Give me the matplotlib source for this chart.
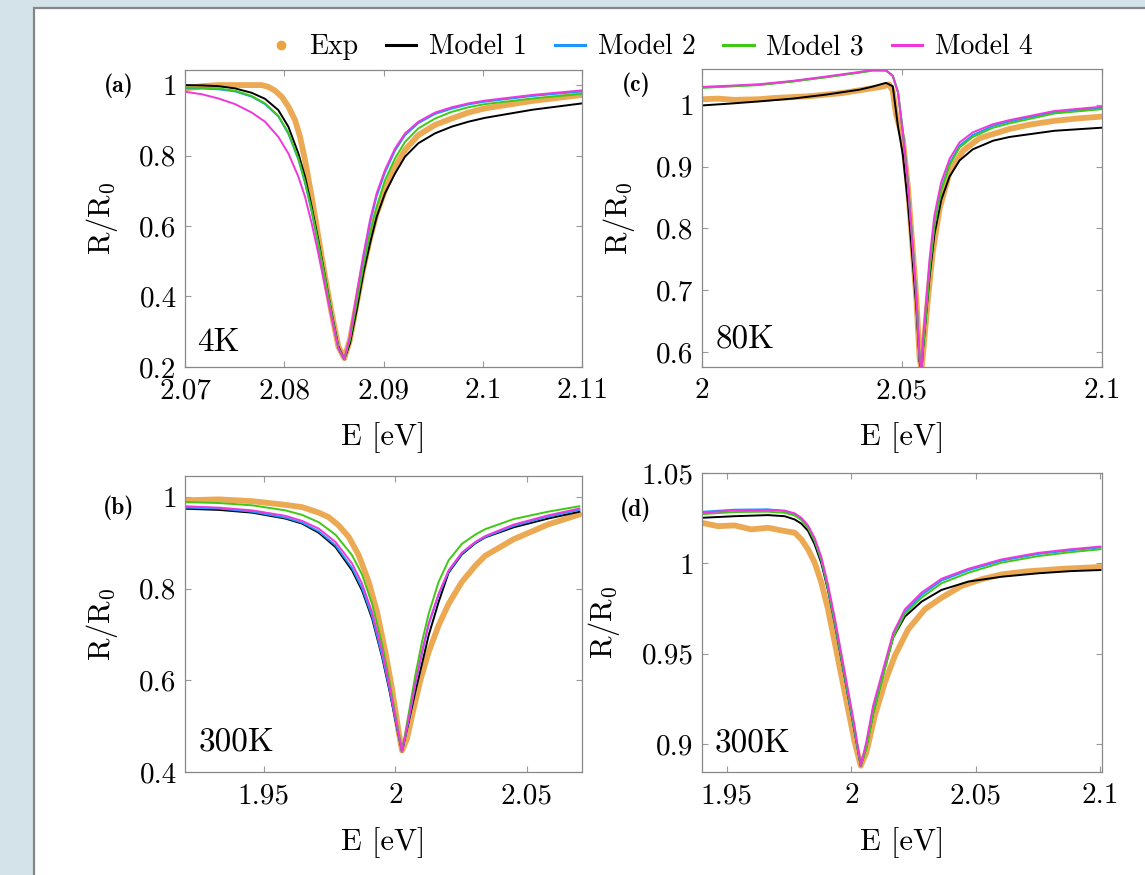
import matplotlib
matplotlib.use("Agg")
import matplotlib.pyplot as plt
from matplotlib.lines import Line2D
from matplotlib.patches import Rectangle

plt.rcParams["font.family"] = "cmr10"
plt.rcParams["mathtext.fontset"] = "cm"
plt.rcParams["axes.formatter.use_mathtext"] = True

# ---------------- panel (a): 4K ----------------
A_E_MOD = [2.07000, 2.07168, 2.07336, 2.07504, 2.07672, 2.07806, 2.07940, 2.08041,
           2.08142, 2.08209, 2.08276, 2.08343, 2.08411, 2.08478, 2.08545, 2.08605,
           2.08662, 2.08730, 2.08797, 2.08864, 2.08931, 2.09015, 2.09116, 2.09217,
           2.09351, 2.09519, 2.09687, 2.09855, 2.10023, 2.10500, 2.11000]
A_M1 = [1.000, 0.999, 0.997, 0.9905, 0.978, 0.961, 0.929, 0.882, 0.806, 0.740, 0.655,
        0.560, 0.456, 0.352, 0.258, 0.222, 0.267, 0.362, 0.466, 0.551, 0.626, 0.693,
        0.749, 0.797, 0.835, 0.863, 0.882, 0.896, 0.907, 0.930, 0.948]
A_M2 = [0.991, 0.990, 0.988, 0.982, 0.967, 0.946, 0.911, 0.862, 0.789, 0.722, 0.641,
        0.548, 0.449, 0.346, 0.253, 0.222, 0.283, 0.400, 0.510, 0.608, 0.685, 0.752,
        0.814, 0.858, 0.892, 0.918, 0.933, 0.945, 0.953, 0.969, 0.982]
A_M3 = [0.993, 0.992, 0.9905, 0.984, 0.969, 0.948, 0.913, 0.865, 0.792, 0.726, 0.645,
        0.551, 0.452, 0.348, 0.253, 0.222, 0.277, 0.381, 0.485, 0.579, 0.655, 0.730,
        0.792, 0.839, 0.877, 0.905, 0.924, 0.937, 0.946, 0.962, 0.975]
A_M4 = [0.981, 0.974, 0.962, 0.946, 0.922, 0.896, 0.853, 0.806, 0.740, 0.683, 0.608,
        0.522, 0.428, 0.338, 0.253, 0.222, 0.288, 0.409, 0.518, 0.617, 0.693, 0.759,
        0.820, 0.863, 0.896, 0.922, 0.937, 0.948, 0.956, 0.972, 0.985]
A_E_EXP = [2.07000, 2.07168, 2.07336, 2.07504, 2.07672, 2.07772, 2.07840, 2.07907,
           2.07974, 2.08041, 2.08108, 2.08159, 2.08209, 2.08276, 2.08343, 2.08411,
           2.08478, 2.08545, 2.08605, 2.08662, 2.08730, 2.08797, 2.08864, 2.08931,
           2.09015, 2.09116, 2.09217, 2.09351, 2.09519, 2.09687, 2.09855, 2.10023,
           2.10500, 2.11000]
A_EXP = [0.990, 0.997, 1.000, 1.000, 1.000, 1.000, 0.995, 0.984, 0.967, 0.939, 0.901,
         0.853, 0.787, 0.683, 0.570, 0.456, 0.352, 0.258, 0.225, 0.277, 0.381, 0.480,
         0.565, 0.636, 0.702, 0.768, 0.816, 0.858, 0.887, 0.905, 0.922, 0.934,
         0.955, 0.972]

# ---------------- panel (c): 80K ----------------
C_E_MOD = [2.0000, 2.0071, 2.0143, 2.0226, 2.0310, 2.0394, 2.0427, 2.0460, 2.0477,
           2.0490, 2.0502, 2.0515, 2.0527, 2.0536, 2.0544, 2.0549, 2.0552, 2.0561,
           2.0569, 2.0581, 2.0598, 2.0619, 2.0644, 2.0677, 2.0728, 2.0769, 2.0881,
           2.1000]
C_M1 = [0.999, 1.002, 1.0055, 1.0100, 1.0165, 1.0245, 1.0295, 1.0355, 1.0300, 0.965,
        0.920, 0.840, 0.745, 0.672, 0.585, 0.570, 0.600, 0.665, 0.722, 0.790, 0.846,
        0.884, 0.910, 0.928, 0.942, 0.948, 0.958, 0.963]
C_M2 = [1.0280, 1.0302, 1.0325, 1.0380, 1.0450, 1.0525, 1.0558, 1.0556, 1.0470,
        1.0210, 0.9580, 0.8730, 0.771, 0.690, 0.592, 0.571, 0.605, 0.672, 0.735,
        0.806, 0.864, 0.905, 0.934, 0.951, 0.966, 0.973, 0.988, 0.995]
C_M3 = [1.0275, 1.0297, 1.0320, 1.0375, 1.0445, 1.0520, 1.0553, 1.0552, 1.0468,
        1.0205, 0.9575, 0.8725, 0.770, 0.689, 0.592, 0.571, 0.603, 0.669, 0.732,
        0.803, 0.861, 0.902, 0.931, 0.948, 0.963, 0.970, 0.986, 0.993]
C_M4 = [1.0290, 1.0310, 1.0333, 1.0387, 1.0457, 1.0532, 1.0565, 1.0560, 1.0468,
        1.0199, 0.9554, 0.8694, 0.767, 0.687, 0.590, 0.570, 0.6166, 0.687, 0.751,
        0.821, 0.8747, 0.9124, 0.9392, 0.9554, 0.9688, 0.9753, 0.990, 0.997]
C_E_EXP = [2.000, 2.004, 2.008, 2.0143, 2.018, 2.0226, 2.027, 2.031, 2.035, 2.0394,
           2.0427, 2.0452, 2.0468, 2.0477, 2.0485, 2.0502, 2.0515, 2.0527, 2.0536,
           2.0544, 2.0549, 2.0555, 2.0565, 2.0577, 2.0594, 2.0619, 2.0653, 2.0694,
           2.0744, 2.0769, 2.082, 2.088, 2.094, 2.100]
C_EXP = [1.009, 1.010, 1.008, 1.009, 1.011, 1.0125, 1.014, 1.0165, 1.019, 1.0235,
         1.027, 1.0296, 1.033, 1.022, 0.985, 0.945, 0.866, 0.765, 0.686, 0.590,
         0.572, 0.615, 0.687, 0.762, 0.832, 0.891, 0.926, 0.946, 0.956, 0.961,
         0.968, 0.974, 0.978, 0.981]

# ---------------- panel (b): 300K ----------------
B_E_MOD = [1.92025, 1.93291, 1.94557, 1.95823, 1.96456, 1.97089, 1.97722, 1.98354,
           1.98734, 1.99114, 1.99494, 1.99747, 2.00000, 2.00253, 2.00506, 2.00759,
           2.01013, 2.01266, 2.01646, 2.02025, 2.02532, 2.03038, 2.03418, 2.04500,
           2.05800, 2.07000]
B_M1 = [0.9745, 0.972, 0.966, 0.953, 0.942, 0.922, 0.891, 0.840, 0.796, 0.735,
        0.651, 0.585, 0.513, 0.445, 0.509, 0.575, 0.636, 0.698, 0.771, 0.835,
        0.875, 0.899, 0.912, 0.934, 0.953, 0.968]
B_M2 = [0.977, 0.975, 0.968, 0.955, 0.944, 0.925, 0.895, 0.845, 0.801, 0.740,
        0.655, 0.589, 0.515, 0.445, 0.513, 0.590, 0.659, 0.721, 0.786, 0.837,
        0.877, 0.900, 0.913, 0.937, 0.957, 0.972]
B_M3 = [0.989, 0.987, 0.982, 0.971, 0.961, 0.945, 0.918, 0.873, 0.831, 0.767,
        0.680, 0.607, 0.527, 0.446, 0.527, 0.611, 0.684, 0.745, 0.815, 0.862,
        0.898, 0.918, 0.930, 0.952, 0.968, 0.980]
B_M4 = [0.980, 0.977, 0.971, 0.959, 0.948, 0.931, 0.902, 0.855, 0.811, 0.749,
        0.665, 0.596, 0.520, 0.445, 0.516, 0.593, 0.662, 0.724, 0.789, 0.840,
        0.879, 0.902, 0.915, 0.940, 0.960, 0.975]
B_E_EXP = [1.92025, 1.93291, 1.94557, 1.95823, 1.96456, 1.97089, 1.97468, 1.97848,
           1.98228, 1.98608, 1.98987, 1.99304, 1.99620, 1.99873, 2.00127, 2.00253,
           2.00443, 2.00696, 2.00949, 2.01266, 2.01646, 2.02025, 2.02532, 2.03038,
           2.03418, 2.04500, 2.05800, 2.07000]
B_EXP = [0.993, 0.995, 0.991, 0.983, 0.978, 0.966, 0.956, 0.938, 0.913, 0.873,
         0.815, 0.749, 0.662, 0.582, 0.487, 0.447, 0.473, 0.538, 0.600, 0.662,
         0.720, 0.767, 0.815, 0.850, 0.872, 0.908, 0.940, 0.962]

# ---------------- panel (d): 300K ----------------
D_E_MOD = [1.93966, 1.95307, 1.96648, 1.97318, 1.97720, 1.97989, 1.98257, 1.98525,
           1.98793, 1.99061, 1.99329, 1.99598, 1.99866, 2.00134, 2.00375, 2.00603,
           2.00871, 2.01206, 2.01676, 2.02145, 2.02816, 2.03620, 2.04693, 2.06034,
           2.07500, 2.08800, 2.10000]
D_M1 = [1.0252, 1.0261, 1.0267, 1.0261, 1.0243, 1.0220, 1.0180, 1.0105, 1.0000,
        0.9850, 0.9668, 0.9468, 0.9267, 0.9065, 0.8880, 0.8985, 0.9170, 0.9350,
        0.9590, 0.9705, 0.9788, 0.9853, 0.9899, 0.9926, 0.9945, 0.9957, 0.9963]
D_M2 = [1.0285, 1.0297, 1.0299, 1.0290, 1.0273, 1.0245, 1.0199, 1.0125, 1.0015,
        0.9858, 0.9674, 0.9472, 0.9269, 0.9067, 0.8882, 0.9000, 0.9195, 0.9365,
        0.9600, 0.9730, 0.9825, 0.9905, 0.9962, 1.0015, 1.0052, 1.0072, 1.0088]
D_M3 = [1.0272, 1.0284, 1.0286, 1.0280, 1.0265, 1.0240, 1.0196, 1.0125, 1.0020,
        0.9866, 0.9683, 0.9483, 0.9282, 0.9080, 0.8880, 0.8975, 0.9165, 0.9340,
        0.9590, 0.9720, 0.9810, 0.9890, 0.9948, 1.0004, 1.0040, 1.0062, 1.0078]
D_M4 = [1.0280, 1.0293, 1.0296, 1.0292, 1.0277, 1.0252, 1.0210, 1.0140, 1.0035,
        0.9882, 0.9700, 0.9500, 0.9298, 0.9095, 0.8880, 0.9015, 0.9212, 0.9380,
        0.9615, 0.9745, 0.9838, 0.9915, 0.9970, 1.0022, 1.0058, 1.0078, 1.0093]
D_E_EXP = [1.93966, 1.94636, 1.95307, 1.95977, 1.96648, 1.97318, 1.97720, 1.97989,
           1.98257, 1.98525, 1.98793, 1.99061, 1.99329, 1.99598, 1.99866, 2.00134,
           2.00375, 2.00603, 2.00938, 2.01341, 2.01743, 2.02279, 2.02950, 2.03620,
           2.04425, 2.05230, 2.06034, 2.07000, 2.08500, 2.10000]
D_EXP = [1.0225, 1.0206, 1.0210, 1.0188, 1.0197, 1.0179, 1.0170, 1.0133, 1.0078,
         1.0004, 0.9893, 0.9746, 0.9562, 0.9377, 0.9193, 0.9009, 0.8880, 0.8954,
         0.9156, 0.9340, 0.9488, 0.9635, 0.9746, 0.9810, 0.9875, 0.9912, 0.9939,
         0.9955, 0.9970, 0.9980]

SERIES = ["Exp", "Model 1", "Model 2", "Model 3", "Model 4"]
COLORS = ["#eba245", "#000000", "#1e96ff", "#3fc814", "#ee38dc"]

PANELS = [
    # tag, temp, E_exp, exp, E_mod, models, xlim, ylim, xticks, xlabels, yticks, ylabels,
    # axes rect, tag position, temperature position
    ("(a)", "4K", A_E_EXP, A_EXP, A_E_MOD, [A_M1, A_M2, A_M3, A_M4],
     (2.07, 2.11), (0.2, 1.043),
     [2.07, 2.08, 2.09, 2.1, 2.11], ["2.07", "2.08", "2.09", "2.1", "2.11"],
     [0.2, 0.4, 0.6, 0.8, 1.0], ["0.2", "0.4", "0.6", "0.8", "1"],
     [0.1616, 0.5806, 0.3467, 0.3395], (-0.168, 0.946), (0.03, 0.055)),
    ("(c)", "80K", C_E_EXP, C_EXP, C_E_MOD, [C_M1, C_M2, C_M3, C_M4],
     (2.0, 2.1), (0.576, 1.058),
     [2.0, 2.05, 2.1], ["2", "2.05", "2.1"],
     [0.6, 0.7, 0.8, 0.9, 1.0], ["0.6", "0.7", "0.8", "0.9", "1"],
     [0.6131, 0.5806, 0.3493, 0.3406], (-0.165, 0.946), (0.035, 0.064)),
    ("(b)", "300K", B_E_EXP, B_EXP, B_E_MOD, [B_M1, B_M2, B_M3, B_M4],
     (1.92, 2.071), (0.4, 1.046),
     [1.95, 2.0, 2.05], ["1.95", "2", "2.05"],
     [0.4, 0.6, 0.8, 1.0], ["0.4", "0.6", "0.8", "1"],
     [0.1616, 0.1177, 0.3467, 0.3383], (-0.168, 0.892), (0.033, 0.074)),
    ("(d)", "300K", D_E_EXP, D_EXP, D_E_MOD, [D_M1, D_M2, D_M3, D_M4],
     (1.94, 2.1006), (0.8845, 1.05),
     [1.95, 2.0, 2.05, 2.1], ["1.95", "2", "2.05", "2.1"],
     [0.9, 0.95, 1.0, 1.05], ["0.9", "0.95", "1", "1.05"],
     [0.6131, 0.1177, 0.3493, 0.3417], (-0.165, 0.876), (0.032, 0.068)),
]

fig = plt.figure(figsize=(11.45, 8.75), dpi=100)
fig.patch.set_facecolor("#d4e3e9")
fig.add_artist(Rectangle((34 / 1145, -0.1), 1.2, 1.1 - 8 / 875,
                         transform=fig.transFigure, facecolor="white",
                         edgecolor="#858585", lw=1.6, zorder=-10))

for (tag, temp, e_exp, r_exp, e_mod, models, xlim, ylim,
     xt, xtl, yt, ytl, rect, tagpos, temppos) in PANELS:
    ax = fig.add_axes(rect)
    ax.plot(e_exp, r_exp, color=COLORS[0], lw=4.2, alpha=0.92,
            solid_capstyle="round", solid_joinstyle="round")
    for r, c in zip(models, COLORS[1:]):
        ax.plot(e_mod, r, color=c, lw=1.4, solid_joinstyle="round")
    ax.set_xlim(*xlim)
    ax.set_ylim(*ylim)
    ax.set_xticks(xt, xtl)
    ax.set_yticks(yt, ytl)
    ax.tick_params(direction="in", top=True, right=True, length=4,
                   color="#999999", labelsize=21)
    ax.tick_params(axis="x", pad=8)
    ax.tick_params(axis="y", pad=6)
    for s in ax.spines.values():
        s.set_color("#888888")
        s.set_linewidth(0.9)
    ax.set_xlabel("E [eV]", fontsize=22, labelpad=13)
    ax.set_ylabel(r"$\mathrm{R/R_0}$", fontsize=22, labelpad=14)
    ax.text(tagpos[0], tagpos[1], tag, transform=ax.transAxes, family="cmb10",
            fontsize=17, ha="center", va="center")
    ax.text(temppos[0], temppos[1], temp, transform=ax.transAxes, fontsize=24,
            ha="left", va="baseline")

handles = [Line2D([], [], color=COLORS[0], marker="o", ls="none", ms=6)]
handles += [Line2D([], [], color=c, lw=2.2) for c in COLORS[1:]]
fig.legend(handles, SERIES, loc="center", bbox_to_anchor=(0.567, 0.946), ncol=5,
           frameon=False, fontsize=20, handlelength=1.1, handletextpad=0.45,
           columnspacing=1.0)

fig.savefig("out.png", dpi=100, facecolor=fig.get_facecolor())
